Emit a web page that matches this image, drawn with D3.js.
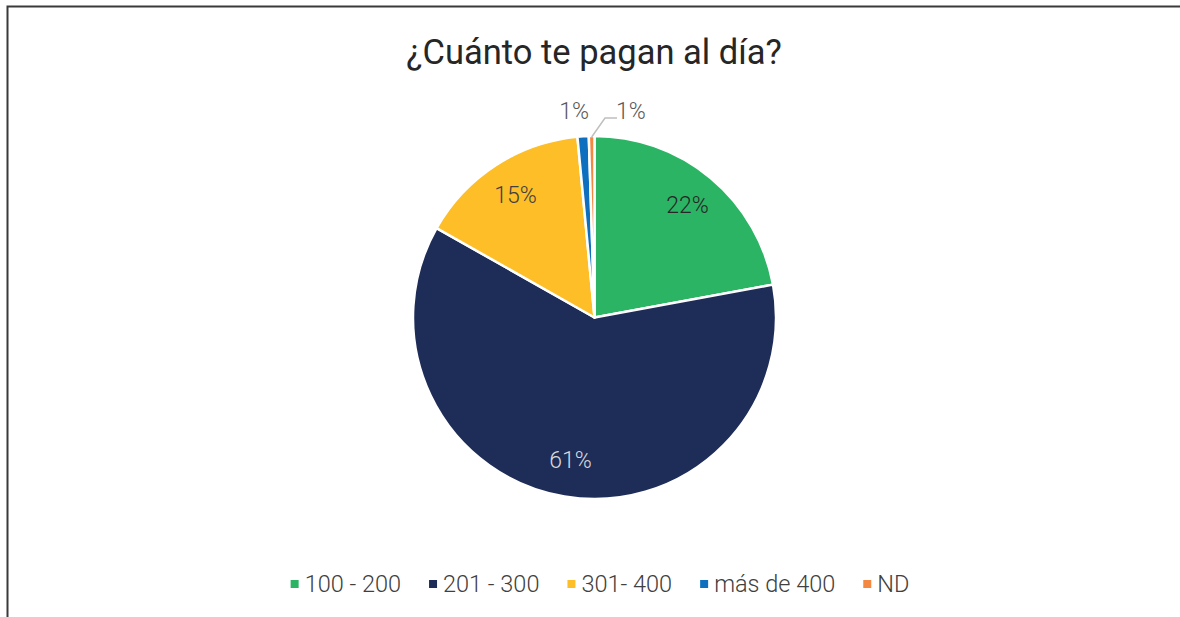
<!DOCTYPE html>
<html>
<head>
<meta charset="utf-8">
<script src="https://cdn.jsdelivr.net/npm/d3@7"></script>
<style>
  html, body { margin: 0; padding: 0; background: #fff; }
  svg { display: block; }
  text { font-family: Roboto, "Noto Sans", sans-serif; }
</style>
</head>
<body>
<svg id="chart" width="1180" height="617"></svg>
<script>
const title = "¿Cuánto te pagan al día?";
const categories = ["100 - 200", "201 - 300", "301- 400", "más de 400", "ND"];
const values = [22.1, 61.1, 15.3, 1.0, 0.5];
const labels = ["22%", "61%", "15%", "1%", "1%"];
const colors = ["#2BB463", "#1E2C58", "#FDBE28", "#0E6FBF", "#F58840"];

const W = 1180, H = 617;
const svg = d3.select("#chart");

// frame
svg.append("rect").attr("x", 0).attr("y", 0).attr("width", W).attr("height", H).attr("fill", "#fff");
svg.append("path")
  .attr("d", `M7.5,${H} L7.5,6.5 L${W},6.5`)
  .attr("fill", "none").attr("stroke", "#3a3a3a").attr("stroke-width", 2);

// title
svg.append("text")
  .attr("x", 594).attr("y", 64)
  .attr("text-anchor", "middle")
  .attr("font-size", 34.5).attr("font-weight", 400)
  .attr("fill", "#262626")
  .text(title);

const cx = 594.5, cy = 317.5, r = 181.5;
const g = svg.append("g").attr("transform", `translate(${cx},${cy})`);

const pie = d3.pie().sort(null).value(d => d)(values);
const arc = d3.arc().innerRadius(0).outerRadius(r);

g.selectAll("path.slice").data(pie).enter().append("path")
  .attr("class", "slice")
  .attr("d", arc)
  .attr("fill", (d, i) => colors[i])
  .attr("stroke", "#fff").attr("stroke-width", 2.5).attr("stroke-linejoin", "round");

// labels
const labelArc = d3.arc().innerRadius(r * 0.8).outerRadius(r * 0.8);
const labelFill = ["#262626", "#D9D9D9", "#404040", "#595959", "#595959"];
pie.forEach((d, i) => {
  let x, y;
  if (i < 3) {
    [x, y] = labelArc.centroid(d);
  } else if (i === 3) {
    x = 574 - cx; y = 111 - cy;
  } else {
    x = 631 - cx; y = 111 - cy;
  }
  g.append("text")
    .attr("x", x).attr("y", y)
    .attr("text-anchor", "middle").attr("dominant-baseline", "central")
    .attr("font-size", 23).attr("font-weight", 300)
    .attr("fill", labelFill[i])
    .text(labels[i]);
});

// leader line for the small ND slice
const nd = pie[4];
const ndMid = (nd.startAngle + nd.endAngle) / 2;
const p0 = [Math.sin(ndMid) * (r - 1), -Math.cos(ndMid) * (r - 1)];
g.append("polyline")
  .attr("points", [p0, [605 - cx, 118 - cy], [617 - cx, 118 - cy]].map(p => p.join(",")).join(" "))
  .attr("fill", "none").attr("stroke", "#BFBFBF").attr("stroke-width", 1.5);

// legend
const legend = svg.append("g");
const items = legend.selectAll("g.item").data(categories).enter().append("g").attr("class", "item");
items.append("rect").attr("width", 8).attr("height", 8).attr("y", -12)
  .attr("fill", (d, i) => colors[i]);
items.append("text").attr("x", 14).attr("y", 0)
  .attr("font-size", 23.5).attr("font-weight", 300).attr("fill", "#404040")
  .text(d => d);
const widths = [];
items.each(function() { widths.push(14 + this.querySelector("text").getComputedTextLength()); });
const gap = 28;
const total = d3.sum(widths) + gap * (widths.length - 1);
let xPos = 600 - total / 2;
items.each(function(d, i) {
  d3.select(this).attr("transform", `translate(${xPos},592)`);
  xPos += widths[i] + gap;
});
</script>
</body>
</html>
